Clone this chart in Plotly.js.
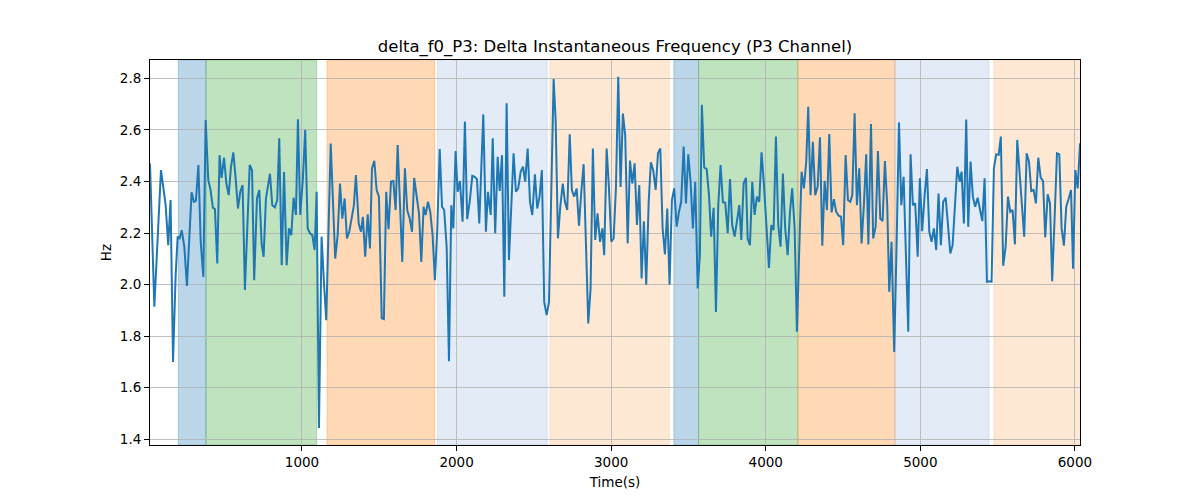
<!DOCTYPE html>
<html>
<head>
<meta charset="utf-8">
<script src="https://cdn.plot.ly/plotly-3.0.1.min.js"></script>
<style>
  body { margin: 0; background: #fff; }
  #chart { width: 1200px; height: 500px; }
</style>
</head>
<body>
<div id="chart"></div>
<script>
// sample times (s) and delta f0 values (Hz)
var times = [
  17, 45, 88, 118, 135, 150, 166, 183, 196, 209, 222, 239, 256, 286, 301, 314, 330, 345, 362, 377,
  394, 407, 424, 437, 452, 467, 480, 496, 511, 526, 541, 556, 571, 586, 601, 616, 631, 662, 677, 691,
  709, 724, 739, 752, 767, 793, 808, 825, 840, 853, 869, 884, 901, 916, 931, 946, 961, 974, 989, 1006,
  1021, 1037, 1052, 1067, 1082, 1095, 1110, 1127, 1142, 1157, 1186, 1201, 1215, 1231, 1246, 1261, 1276, 1291, 1306, 1321,
  1336, 1349, 1367, 1382, 1394, 1409, 1425, 1440, 1453, 1468, 1483, 1498, 1516, 1530, 1545, 1560, 1576, 1591, 1606, 1619,
  1634, 1649, 1666, 1681, 1697, 1712, 1726, 1742, 1757, 1772, 1787, 1800, 1815, 1830, 1845, 1860, 1875, 1891, 1906, 1920,
  1936, 1951, 1966, 1979, 1994, 2007, 2022, 2039, 2054, 2069, 2085, 2102, 2117, 2132, 2147, 2173, 2190, 2203, 2221, 2234,
  2250, 2266, 2279, 2294, 2309, 2324, 2339, 2369, 2384, 2399, 2415, 2430, 2444, 2460, 2475, 2490, 2507, 2522, 2537, 2552,
  2567, 2583, 2598, 2628, 2641, 2656, 2671, 2687, 2701, 2716, 2732, 2746, 2761, 2777, 2792, 2807, 2822, 2837, 2852, 2867,
  2882, 2897, 2912, 2928, 2943, 2955, 2971, 2986, 3001, 3016, 3031, 3046, 3061, 3076, 3091, 3107, 3122, 3137, 3152, 3167,
  3182, 3197, 3212, 3227, 3243, 3257, 3272, 3288, 3303, 3318, 3333, 3348, 3363, 3378, 3393, 3408, 3424, 3439, 3453, 3469,
  3484, 3499, 3514, 3529, 3544, 3560, 3574, 3587, 3602, 3618, 3633, 3647, 3663, 3678, 3693, 3708, 3723, 3738, 3754, 3769,
  3783, 3799, 3814, 3829, 3842, 3857, 3872, 3883, 3898, 3913, 3928, 3943, 3958, 3973, 3988, 4003, 4021, 4036, 4051, 4066,
  4081, 4096, 4111, 4126, 4142, 4157, 4171, 4187, 4202, 4217, 4232, 4247, 4262, 4275, 4290, 4305, 4320, 4336, 4351, 4366,
  4381, 4396, 4411, 4426, 4441, 4456, 4472, 4487, 4501, 4517, 4532, 4547, 4560, 4575, 4590, 4605, 4620, 4635, 4650, 4664,
  4681, 4695, 4711, 4726, 4741, 4756, 4771, 4786, 4799, 4814, 4831, 4847, 4862, 4877, 4892, 4907, 4922, 4937, 4952, 4967,
  4983, 4997, 5012, 5028, 5043, 5058, 5073, 5088, 5103, 5118, 5133, 5148, 5164, 5179, 5194, 5209, 5224, 5239, 5255, 5267,
  5282, 5297, 5310, 5325, 5340, 5355, 5371, 5386, 5401, 5416, 5431, 5446, 5461, 5476, 5491, 5507, 5521, 5536, 5552, 5567,
  5582, 5597, 5612, 5627, 5643, 5657, 5672, 5688, 5703, 5718, 5733, 5748, 5763, 5779, 5794, 5808, 5824, 5839, 5853, 5869,
  5884, 5899, 5914, 5929, 5944, 5960, 5975, 5988, 6003, 6018, 6033
];
var deltaF0 = [
  2.47, 1.914, 2.444, 2.31, 2.153, 2.328, 1.70, 2.037, 2.186, 2.18, 2.211, 2.147, 1.995, 2.358, 2.321, 2.325, 2.464, 2.166, 2.03, 2.638,
  2.405, 2.373, 2.298, 2.293, 2.082, 2.502, 2.414, 2.492, 2.392, 2.347, 2.457, 2.513, 2.412, 2.295, 2.36, 2.386, 1.979, 2.464, 2.444, 2.017,
  2.334, 2.367, 2.16, 2.108, 2.334, 2.43, 2.308, 2.30, 2.328, 2.567, 2.075, 2.437, 2.075, 2.218, 2.192, 2.337, 2.27, 2.641, 2.27, 2.412,
  2.60, 2.218, 2.199, 2.192, 2.134, 2.36, 1.444, 2.186, 2.011, 1.862, 2.547, 2.308, 2.101, 2.192, 2.392, 2.256, 2.334, 2.179, 2.205, 2.256,
  2.308, 2.425, 2.237, 2.205, 2.263, 2.108, 2.273, 2.14, 2.451, 2.48, 2.367, 2.341, 1.869, 1.866, 2.36, 2.215, 2.40, 2.402, 2.289, 2.541,
  2.302, 2.088, 2.451, 2.289, 2.256, 2.205, 2.414, 2.347, 2.276, 2.088, 2.302, 2.27, 2.321, 2.282, 2.192, 2.017, 2.211, 2.526, 2.302, 2.289,
  2.147, 1.703, 2.308, 2.218, 2.518, 2.36, 2.402, 2.244, 2.632, 2.254, 2.321, 2.422, 2.418, 2.409, 2.237, 2.66, 2.205, 2.36, 2.27, 2.567,
  2.199, 2.496, 2.363, 2.502, 1.953, 2.703, 2.095, 2.509, 2.36, 2.373, 2.438, 2.457, 2.399, 2.528, 2.321, 2.27, 2.428, 2.295, 2.341, 2.444,
  1.933, 1.882, 1.933, 2.797, 2.638, 2.179, 2.302, 2.392, 2.321, 2.289, 2.583, 2.367, 2.341, 2.373, 2.228, 2.36, 2.467, 2.16, 1.849, 1.985,
  2.528, 2.173, 2.276, 2.166, 2.218, 2.114, 2.528, 2.373, 2.166, 2.179, 2.373, 2.806, 2.379, 2.663, 2.58, 2.16, 2.481, 2.392, 2.47, 2.231,
  2.386, 2.024, 2.246, 2.0, 2.321, 2.474, 2.444, 2.367, 2.509, 2.528, 2.218, 2.117, 2.295, 2.0, 2.328, 2.373, 2.225, 2.282, 2.321, 2.535,
  2.315, 2.505, 2.399, 2.218, 2.399, 1.985, 2.114, 2.697, 2.454, 2.448, 2.347, 2.186, 2.298, 1.894, 2.308, 2.464, 2.319, 2.318, 2.199, 2.409,
  2.231, 2.186, 2.256, 2.308, 2.173, 2.392, 2.414, 2.179, 2.153, 2.399, 2.27, 2.341, 2.321, 2.513, 2.392, 2.244, 2.065, 2.231, 2.211, 2.574,
  2.231, 2.147, 2.431, 2.218, 2.114, 2.282, 2.373, 2.218, 1.817, 2.14, 2.438, 2.373, 2.477, 2.69, 2.347, 2.554, 2.347, 2.38, 2.571, 2.151,
  2.402, 2.289, 2.584, 2.28, 2.331, 2.282, 2.267, 2.263, 2.153, 2.502, 2.328, 2.321, 2.347, 2.664, 2.308, 2.451, 2.16, 2.308, 2.505, 2.156,
  2.623, 2.179, 2.224, 2.518, 2.256, 2.246, 2.479, 2.308, 1.972, 2.166, 1.739, 2.166, 2.629, 2.308, 2.418, 2.114, 1.817, 2.505, 2.308, 2.315,
  2.108, 2.412, 2.207, 2.347, 2.448, 2.205, 2.166, 2.218, 2.134, 2.353, 2.153, 2.321, 2.337, 2.231, 2.121, 2.153, 2.321, 2.457, 2.399, 2.438,
  2.237, 2.64, 2.224, 2.477, 2.341, 2.302, 2.337, 2.295, 2.246, 2.412, 2.011, 2.013, 2.011, 2.451, 2.505, 2.503, 2.574, 2.073, 2.147, 2.341,
  2.282, 2.289, 2.156, 2.561, 2.425, 2.293, 2.186, 2.509, 2.477, 2.363, 2.367, 2.315, 2.492, 2.414, 2.402, 2.183, 2.35, 2.315, 2.013, 2.263,
  2.509, 2.505, 2.218, 2.151, 2.302, 2.334, 2.367, 2.062, 2.444, 2.373, 2.548
];

// shaded phases
var spanStart = [200, 379, 1162, 1877, 2604, 3406, 3566, 4208, 4836, 5476];
var spanEnd   = [379, 1095, 1860, 2587, 3376, 3566, 4208, 4836, 5444, 6100];
var spanColor = [
  "rgba(31,119,180,0.3)", "rgba(44,160,44,0.3)", "rgba(255,127,14,0.3)", "rgba(68,122,195,0.15)", "rgba(250,140,40,0.2)",
  "rgba(31,119,180,0.3)", "rgba(44,160,44,0.3)", "rgba(255,127,14,0.3)", "rgba(68,122,195,0.15)", "rgba(250,140,40,0.2)"
];

var shapes = [];
for (var i = 0; i < spanStart.length; i++) {
  shapes.push({
    type: "rect", xref: "x", yref: "paper",
    x0: spanStart[i], x1: spanEnd[i], y0: 0, y1: 1,
    fillcolor: spanColor[i], line: {color: spanColor[i], width: 1}, layer: "below"
  });
}

var trace = {
  x: times,
  y: deltaF0,
  mode: "lines",
  type: "scatter",
  line: {color: "#1f77b4", width: 2},
  hoverinfo: "skip"
};

var font = "DejaVu Sans, sans-serif";
var layout = {
  width: 1200, height: 500,
  margin: {l: 150, r: 120, t: 60, b: 55},
  paper_bgcolor: "#fff", plot_bgcolor: "#fff",
  showlegend: false,
  font: {family: font, size: 13.5, color: "#000"},
  title: {
    text: "delta_f0_P3: Delta Instantaneous Frequency (P3 Channel)",
    font: {family: font, size: 16.5, color: "#000"},
    x: 0.5, xanchor: "center", xref: "paper",
    y: 1 - 46 / 500, yref: "container", yanchor: "middle"
  },
  xaxis: {
    range: [17, 6033],
    tickvals: [1000, 2000, 3000, 4000, 5000, 6000],
    ticks: "outside", ticklen: 5, tickcolor: "#000",
    showgrid: true, gridcolor: "#b0b0b0", gridwidth: 0.8,
    showline: true, linecolor: "#000", linewidth: 1, mirror: true,
    zeroline: false,
    title: {text: "Time(s)", font: {family: font, size: 13.5}, standoff: 8}
  },
  yaxis: {
    range: [1.378, 2.871],
    tickvals: [1.4, 1.6, 1.8, 2.0, 2.2, 2.4, 2.6, 2.8],
    ticktext: ["1.4", "1.6", "1.8", "2.0", "2.2", "2.4", "2.6", "2.8"],
    ticks: "outside", ticklen: 5, tickcolor: "#000",
    showgrid: true, gridcolor: "#b0b0b0", gridwidth: 0.8,
    showline: true, linecolor: "#000", linewidth: 1, mirror: true,
    zeroline: false,
    title: {text: "Hz", font: {family: font, size: 13.5}, standoff: 5}
  },
  shapes: shapes
};

Plotly.newPlot("chart", [trace], layout, {displayModeBar: false, staticPlot: true});
</script>
</body>
</html>
